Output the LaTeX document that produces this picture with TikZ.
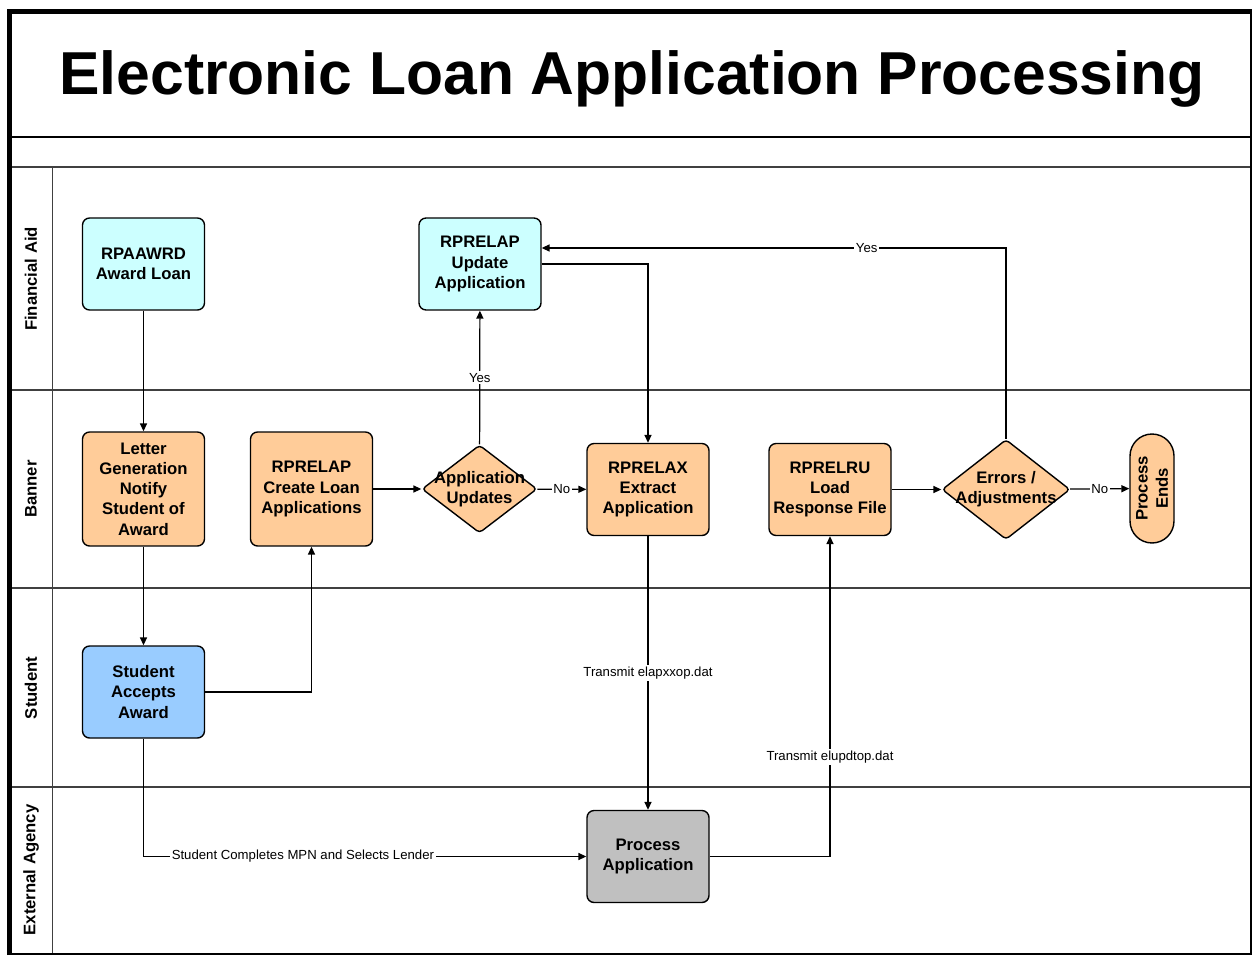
\documentclass[tikz,border=0pt]{standalone}
\usepackage{fontspec}
\setmainfont{Liberation Sans}
\usetikzlibrary{arrows.meta,shapes.geometric}

\begin{document}
\begin{tikzpicture}[x=0.02cm, y=-0.02cm,
  box/.style={draw, line width=0.8pt, rounded corners=4pt, align=center,
    minimum width=2.44cm, minimum height=1.84cm, inner sep=1pt,
    font=\bfseries\fontsize{9.5}{11.5}\selectfont},
  decision/.style={draw, diamond, line width=0.8pt, rounded corners=2pt,
    inner sep=0pt, fill=banner},
  dtext/.style={align=center, inner sep=0pt,
    font=\bfseries\fontsize{9.5}{11.5}\selectfont},
  flow/.style={line width=0.7pt, -{Triangle[length=4.5pt,width=4pt]}},
  lbl/.style={fill=white, inner sep=1pt, font=\fontsize{7.5}{9}\selectfont},
  lanelbl/.style={rotate=90, font=\bfseries\fontsize{9.5}{11.5}\selectfont},
  lane/.style={line width=0.9pt, draw=lanegray}]
% Swim-lane chart: four lanes, one flow of loan records
% from the aid office through Banner to the lender and back.
\definecolor{aid}{RGB}{204, 255, 255}
\definecolor{banner}{RGB}{255, 204, 153}
\definecolor{student}{RGB}{153, 204, 255}
\definecolor{agency}{RGB}{192, 192, 192}
\definecolor{lanegray}{RGB}{64, 64, 64}
\useasboundingbox (0,0) rectangle (1253,956);
% frame and lanes
\draw[lane] (10,167) -- (1251,167);
\foreach \y in {390, 588, 787} {
  \draw[lane] (10,\y) -- (1251,\y);
}
\draw[lane] (52.5,167) -- (52.5,954);
\draw[line width=1.1pt] (10,137) -- (1251,137);
\draw[line width=1.2pt] (1251,11) -- (1251,954) -- (10,954);
\draw[line width=3.2pt] (9.5,955) -- (9.5,11.5) -- (1252,11.5);
\node[anchor=base, font=\bfseries\fontsize{34.5}{40}\selectfont] (title) at (632,95)
  {Electronic Loan Application Processing};
\foreach \y/\name in {279/Financial Aid, 489/Banner, 688/Student, 870/External Agency} {
  \node[lanelbl] (lane\y) at (31,\y) {\name};
}
% steps
\node[box, fill=aid] (awrd) at (143.5,264) {RPAAWRD\\Award Loan};
\node[box, fill=aid] (update) at (480,264) {RPRELAP\\Update\\Application};
\node[box, fill=banner, minimum height=2.28cm] (letter) at (143.5,489)
  {Letter\\Generation\\Notify\\Student of\\Award};
\node[box, fill=banner, minimum height=2.28cm] (create) at (311.5,489)
  {RPRELAP\\Create Loan\\Applications};
\node[decision, minimum width=2.3cm, minimum height=1.76cm] (appupd) at (479.5,489) {};
\node[dtext] (appupdtxt) at (appupd) {Application\\Updates};
\node[box, fill=banner] (extract) at (648,489.5) {RPRELAX\\Extract\\Application};
\node[box, fill=banner] (lru) at (830,489.5) {RPRELRU\\Load\\Response File};
\node[decision, minimum width=2.56cm, minimum height=2.0cm] (errors) at (1006,489.5) {};
\node[dtext] (errorstxt) at (errors) {Errors /\\Adjustments};
\node[box, fill=banner, rotate=90, rounded corners=0.44cm,
  minimum width=2.18cm, minimum height=0.88cm] (ends) at (1152,488.5) {Process\\Ends};
\node[box, fill=student] (accept) at (143.5,692) {Student\\Accepts\\Award};
\node[box, fill=agency] (procapp) at (648,856.5) {Process\\Application};
% connectors
\draw[flow] (awrd) -- (letter);
\draw[flow] (letter) -- (accept);
\draw[flow] (accept.east) -| (create.south);
\draw[flow] (create) -- (appupd);
\draw[flow] (appupd) -- node[lbl] {Yes} (update);
\draw[flow] (appupd) -- node[lbl] {No} (extract);
\draw[flow] (update.east) -| (extract.north);
\draw[flow] (extract) -- node[lbl] {Transmit elapxxop.dat} (procapp);
\draw[flow] (accept.south) |- node[lbl, pos=0.68] {Student Completes MPN and Selects Lender} (procapp.west);
\draw[flow] (procapp.east) -| node[lbl, pos=0.655] {Transmit elupdtop.dat} (lru.south);
\draw[flow] (lru) -- (errors);
\draw[flow] (errors) -- node[lbl] {No} (ends);
\draw[flow] (errors.north) |- node[lbl, pos=0.65] {Yes} ([yshift=0.32cm]update.east);
\end{tikzpicture}
\end{document}
